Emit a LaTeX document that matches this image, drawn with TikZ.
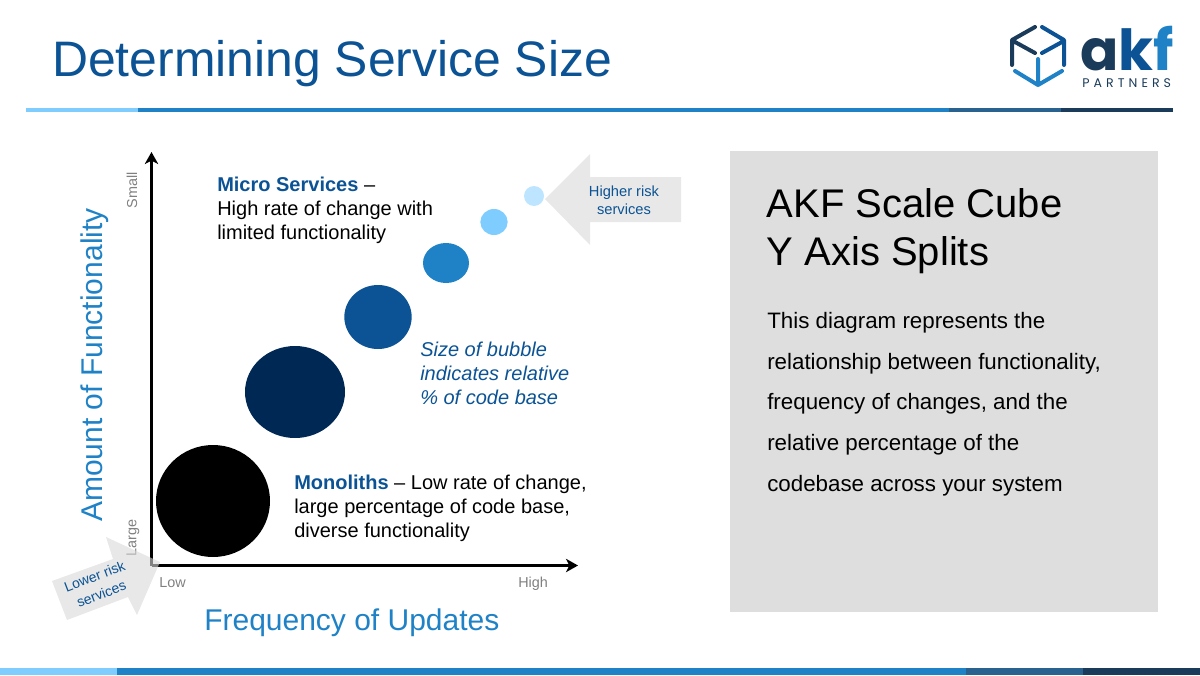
\documentclass[tikz,border=0pt]{standalone}
\usepackage{fontspec}
\setmainfont{Liberation Sans}
\newfontfamily\logofont{Poppins}
\usepackage{tikz}
\usetikzlibrary{arrows,arrows.meta,shapes}
\definecolor{akfdark}{HTML}{1B3B5A}
\definecolor{akfslate}{HTML}{2A628F}
\definecolor{akfblue}{HTML}{1F82C6}
\definecolor{akfsky}{HTML}{7FCDFF}
\definecolor{akfpale}{HTML}{BDE5FF}
\definecolor{akfnavy}{HTML}{002855}
\definecolor{akfmid}{HTML}{0B5394}
\tikzstyle{line} = [draw, -{Stealth[length=9pt,width=10pt,inset=2.5pt]}, line width=2pt]
\tikzstyle{bubble} = [draw=none, ellipse, inner sep=0pt]
\tikzstyle{txt} = [inner sep=0pt, anchor=base west, align=left]
\tikzstyle{tick} = [inner sep=0pt, text=black!50, font=\fontsize{10.8}{12}\selectfont]
\tikzstyle{risk} = [fill=black!15, opacity=0.6, draw=none]
\tikzstyle{logo} = [line width=3pt, line cap=round, line join=round]

\begin{document}
\begin{tikzpicture}[x=0.75pt,y=-0.75pt]
\useasboundingbox (0,0) rectangle (1200,675);
% top and bottom bars
\fill[akfsky] (26,108) rectangle (138,112);
\fill[akfblue] (138,108) rectangle (949,112);
\fill[akfslate] (949,108) rectangle (1061,112);
\fill[akfdark] (1061,108) rectangle (1173,112);
\fill[akfsky] (0,668) rectangle (117,675);
\fill[akfblue] (117,668) rectangle (966,675);
\fill[akfslate] (966,668) rectangle (1083,675);
\fill[akfdark] (1083,668) rectangle (1200,675);
\node[txt,text=akfmid,font=\fontsize{37.4}{44}\selectfont] (title) at (52,76) {Determining Service Size};
% logo
\draw[logo,akfdark] (1035,27) -- (1012,40) -- (1012,65) (1015,42) -- (1035,53);
\draw[logo,akfmid] (1042,27) -- (1064,40) -- (1064,65) (1062,42) -- (1042,53);
\draw[logo,akfblue] (1038,59) -- (1038,85) (1015,71) -- (1038,85) -- (1062,71);
\node[txt,font=\logofont\bfseries\fontsize{42.4}{50}\selectfont] (akf) at (1080,70)
  {\textcolor{akfdark}{a}\textcolor{akfmid}{k}\textcolor{akfblue}{f}};
\node[txt,text=akfdark,font=\logofont\fontsize{9.4}{10}\selectfont] (partners) at (1082,87)
  {P\hspace{3.05pt}A\hspace{3.05pt}R\hspace{3.05pt}T\hspace{3.05pt}N\hspace{3.05pt}E\hspace{3.05pt}R\hspace{3.05pt}S};
% right panel
\fill[black!13] (730,151) rectangle (1158,612);
\node[txt,font=\fontsize{30}{36}\selectfont] (cube) at (766.5,265) {AKF Scale Cube\\Y Axis Splits};
\node[txt,font=\fontsize{16.75}{30.4}\selectfont] (body) at (767,491)
  {This diagram represents the\\relationship between functionality,\\frequency of changes, and the\\relative percentage of the\\codebase across your system};
% axes
\coordinate (origin) at (151.5,565.5);
\coordinate (ymax) at (151.5,152);
\coordinate (xmax) at (578,565.5);
\path [line] (origin) -- (ymax);
\path [line] (origin) -- (xmax);
\node[tick,rotate=90] (small) at (132,190) {Small};
\node[tick,rotate=90] (large) at (133,538) {Large};
\node[tick,anchor=base west] (low) at (159,587) {Low};
\node[tick,anchor=base west] (high) at (518,587) {High};
\node[inner sep=0pt,rotate=90,text=akfblue,font=\fontsize{22.5}{28}\selectfont] (ytitle) at (94.5,365) {Amount of Functionality};
\node[txt,text=akfblue,font=\fontsize{22.5}{28}\selectfont] (xtitle) at (204,630) {Frequency of Updates};
% bubbles
\node[bubble,fill=black,minimum width=85.5pt,minimum height=84pt] (b1) at (213,501) {};
\node[bubble,fill=akfnavy,minimum width=75pt,minimum height=69pt] (b2) at (295,392) {};
\node[bubble,fill=akfmid,minimum width=50.5pt,minimum height=48pt] (b3) at (378,317) {};
\node[bubble,fill=akfblue,minimum width=34.5pt,minimum height=30pt] (b4) at (446,263) {};
\node[bubble,fill=akfsky,minimum width=20.5pt,minimum height=19.5pt] (b5) at (494,222) {};
\node[bubble,fill=akfpale,minimum width=15pt,minimum height=15pt] (b6) at (534,196) {};
% labels
\node[txt,font=\fontsize{15}{18}\selectfont] (micro) at (217,239)
  {\textcolor{akfmid}{\textbf{Micro Services}} --\\High rate of change with\\limited functionality};
\node[txt,font=\fontsize{15}{18}\selectfont] (mono) at (294,537)
  {\textcolor{akfmid}{\textbf{Monoliths}} -- Low rate of change,\\large percentage of code base,\\diverse functionality};
\node[txt,text=akfmid,font=\itshape\fontsize{15}{18}\selectfont] (size) at (420,404)
  {Size of bubble\\indicates relative\\\% of code base};
% risk arrows
\fill[risk] (545,199) -- (590,154) -- (590,177) -- (681,177) -- (681,222) -- (590,222) -- (590,245) -- cycle;
\node[inner sep=0pt,align=center,text=akfmid,font=\fontsize{11}{13.5}\selectfont] (higher) at (624,200) {Higher risk\\services};
\fill[risk] (160,562) -- (106,537) -- (113,559) -- (52,581) -- (67,620) -- (128,597) -- (137,615) -- cycle;
\node[inner sep=0pt,align=center,rotate=21,text=akfmid,font=\fontsize{10.5}{14}\selectfont] (lower) at (98,585) {Lower risk\\services};
\end{tikzpicture}
\end{document}
